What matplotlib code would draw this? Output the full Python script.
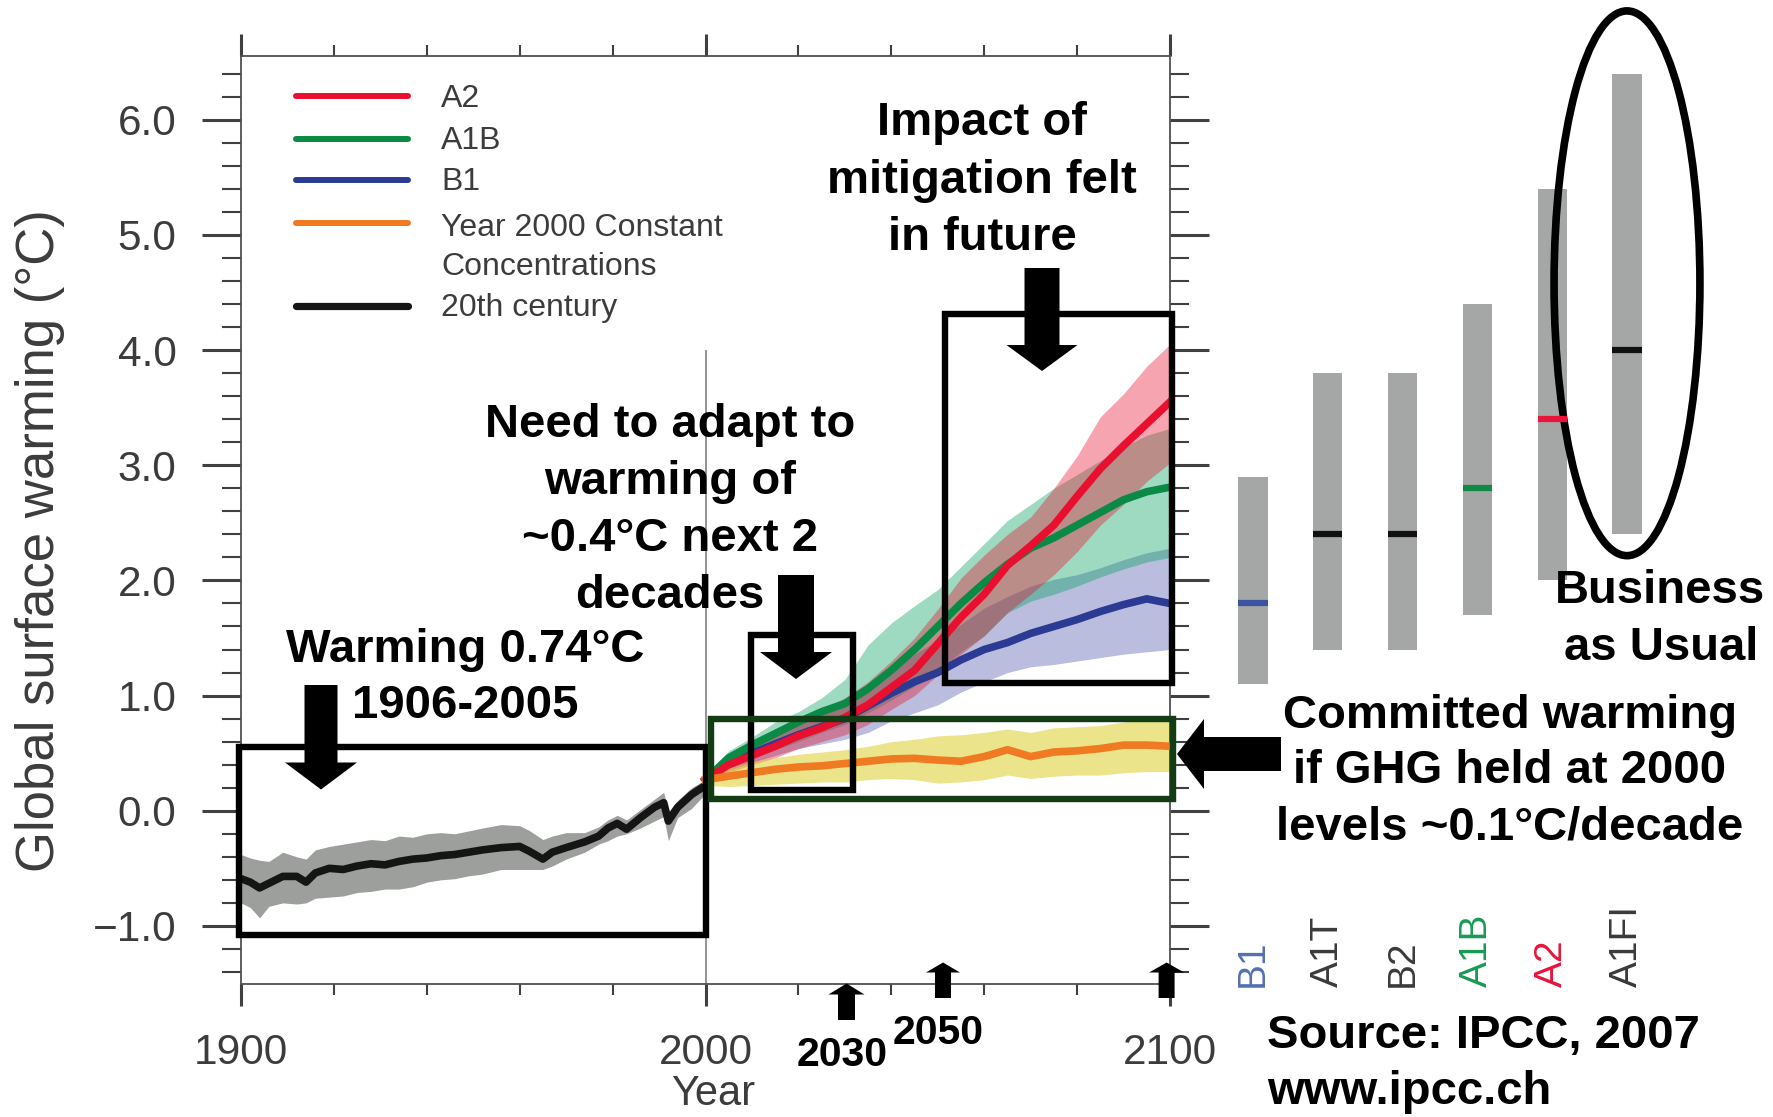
import matplotlib.pyplot as plt
from matplotlib.patches import Rectangle, Polygon, Ellipse
from matplotlib.lines import Line2D
from matplotlib.ticker import MultipleLocator, FuncFormatter
import numpy as np

plt.rcParams["font.family"] = ["Liberation Sans", "DejaVu Sans"]

# 20th century: multi-model mean and spread
years_20c = [1900, 1902, 1904, 1906, 1909, 1912, 1914, 1916, 1919, 1922, 1925, 1928, 1931,
             1934, 1937, 1940, 1943, 1946, 1949, 1952, 1956, 1960, 1962, 1965, 1967, 1970,
             1974, 1977, 1979, 1981, 1983, 1986, 1989, 1991, 1992, 1994, 1997, 2000]
mean_20c = [-0.59, -0.62, -0.67, -0.63, -0.57, -0.57, -0.62, -0.54, -0.50, -0.51, -0.48, -0.46, -0.47,
            -0.44, -0.42, -0.41, -0.39, -0.38, -0.36, -0.34, -0.32, -0.31, -0.35, -0.42, -0.36, -0.32,
            -0.27, -0.22, -0.15, -0.11, -0.16, -0.06, 0.03, 0.07, -0.09, 0.03, 0.14, 0.22]
upper_20c = [-0.38, -0.41, -0.43, -0.44, -0.36, -0.40, -0.42, -0.34, -0.31, -0.29, -0.27, -0.25, -0.26,
             -0.22, -0.23, -0.20, -0.19, -0.20, -0.175, -0.15, -0.12, -0.13, -0.17, -0.25, -0.22, -0.19,
             -0.19, -0.14, -0.08, -0.04, -0.08, 0.01, 0.10, 0.16, -0.01, 0.09, 0.20, 0.27]
lower_20c = [-0.80, -0.84, -0.93, -0.83, -0.80, -0.81, -0.80, -0.76, -0.75, -0.74, -0.71, -0.70, -0.68,
             -0.68, -0.66, -0.62, -0.60, -0.59, -0.565, -0.55, -0.51, -0.51, -0.51, -0.51, -0.48, -0.42,
             -0.36, -0.29, -0.26, -0.22, -0.20, -0.15, -0.09, -0.05, -0.26, -0.06, 0.02, 0.15]

# projections 2000-2100
years_proj = [2000, 2005, 2010, 2015, 2020, 2025, 2030, 2035, 2040, 2045, 2050,
              2055, 2060, 2065, 2070, 2075, 2080, 2085, 2090, 2095, 2100]
a2_mean = [0.27, 0.40, 0.48, 0.56, 0.65, 0.72, 0.81, 0.92, 1.07, 1.22, 1.45,
           1.68, 1.88, 2.13, 2.30, 2.48, 2.73, 2.97, 3.17, 3.36, 3.55]
a2_high = [0.30, 0.48, 0.57, 0.68, 0.78, 0.88, 0.98, 1.12, 1.30, 1.50, 1.75,
           2.02, 2.22, 2.40, 2.55, 2.80, 3.08, 3.42, 3.62, 3.86, 4.05]
a2_low = [0.22, 0.33, 0.40, 0.46, 0.54, 0.60, 0.66, 0.75, 0.88, 1.00, 1.18,
          1.36, 1.52, 1.72, 1.88, 2.05, 2.25, 2.48, 2.66, 2.86, 3.02]
a1b_mean = [0.27, 0.46, 0.57, 0.67, 0.77, 0.86, 0.93, 1.06, 1.22, 1.40, 1.60,
            1.80, 1.98, 2.14, 2.28, 2.37, 2.48, 2.59, 2.70, 2.77, 2.81]
a1b_high = [0.30, 0.52, 0.64, 0.77, 0.86, 0.98, 1.14, 1.44, 1.63, 1.78, 1.92,
            2.12, 2.32, 2.52, 2.66, 2.80, 2.92, 3.04, 3.16, 3.26, 3.32]
a1b_low = [0.22, 0.37, 0.45, 0.53, 0.60, 0.68, 0.75, 0.85, 0.96, 1.08, 1.22,
           1.38, 1.52, 1.72, 1.82, 1.88, 1.95, 2.03, 2.10, 2.16, 2.20]
b1_mean = [0.27, 0.42, 0.50, 0.58, 0.66, 0.73, 0.80, 0.91, 1.02, 1.12, 1.20,
           1.31, 1.40, 1.46, 1.54, 1.60, 1.66, 1.73, 1.79, 1.84, 1.80]
b1_high = [0.30, 0.47, 0.56, 0.66, 0.75, 0.85, 0.95, 1.08, 1.22, 1.36, 1.48,
           1.62, 1.76, 1.86, 1.95, 2.01, 2.05, 2.11, 2.18, 2.24, 2.28]
b1_low = [0.22, 0.35, 0.42, 0.48, 0.54, 0.58, 0.62, 0.68, 0.78, 0.85, 0.92,
          1.03, 1.12, 1.20, 1.25, 1.27, 1.30, 1.33, 1.36, 1.38, 1.40]
const_mean = [0.27, 0.30, 0.33, 0.36, 0.38, 0.39, 0.41, 0.43, 0.45, 0.455, 0.44,
              0.43, 0.47, 0.53, 0.47, 0.51, 0.52, 0.54, 0.57, 0.57, 0.56]
const_high = [0.30, 0.37, 0.43, 0.46, 0.49, 0.51, 0.53, 0.56, 0.60, 0.62, 0.65,
              0.66, 0.68, 0.71, 0.68, 0.72, 0.73, 0.74, 0.77, 0.79, 0.78]
const_low = [0.22, 0.21, 0.22, 0.23, 0.24, 0.25, 0.25, 0.27, 0.28, 0.27, 0.24,
             0.25, 0.27, 0.31, 0.28, 0.30, 0.31, 0.31, 0.33, 0.34, 0.34]

# likely ranges at 2090-2099 per scenario
scenarios = ["B1", "A1T", "B2", "A1B", "A2", "A1FI"]
range_low = [1.1, 1.4, 1.4, 1.7, 2.0, 2.4]
range_high = [2.9, 3.8, 3.8, 4.4, 5.4, 6.4]
best_est = [1.8, 2.4, 2.4, 2.8, 3.4, 4.0]
best_colors = ["#3b54a0", "#111111", "#111111", "#108a45", "#e8143a", "#111111"]
name_colors = ["#5470b0", "#3a3a3a", "#3a3a3a", "#1a9a55", "#e8143a", "#3a3a3a"]

RED, GREEN, BLUE, ORANGE, BLACK = "#e8102e", "#0b8a45", "#2b3a92", "#f07a22", "#151515"
TXT = "#3c3c3c"

W, H = 1773, 1117
fig = plt.figure(figsize=(W / 100, H / 100), dpi=100)


def fx(x):
    return x / W


def fy(y):
    return 1 - y / H


ax_top, ax_bot = 56.4, 983.5
ax = fig.add_axes([fx(241), fy(ax_bot), (1170 - 241) / W, (ax_bot - ax_top) / H])

# spread bands
ax.fill_between(years_20c, lower_20c, upper_20c, color="#9c9f9c", lw=0, zorder=1)
ax.fill_between(years_proj, b1_low, b1_high, color="#2a3296", alpha=0.32, lw=0, zorder=1)
ax.fill_between(years_proj, a1b_low, a1b_high, color="#00a060", alpha=0.38, lw=0, zorder=1)
ax.fill_between(years_proj, a2_low, a2_high, color="#e8102e", alpha=0.38, lw=0, zorder=1)
ax.fill_between(years_proj, const_low, const_high, color="#dccf2a", alpha=0.55, lw=0, zorder=1)

# mean lines
ax.plot(years_20c, mean_20c, color=BLACK, lw=5.5, zorder=3)
ax.plot(years_proj, b1_mean, color=BLUE, lw=5.5, zorder=3)
ax.plot(years_proj, a1b_mean, color=GREEN, lw=5.5, zorder=3)
ax.plot(years_proj, a2_mean, color=RED, lw=5.5, zorder=3)
ax.plot(years_proj, const_mean, color=ORANGE, lw=5.5, zorder=3)

ax.vlines(2000, -1.5, 4.0, color="#8a8a8a", lw=1.3, zorder=2)

ax.set_xlim(1900, 2100)
ax.set_ylim(-1.5, 6.55)
ax.set_xticks([1900, 2000, 2100])
ax.xaxis.set_minor_locator(MultipleLocator(20))
ax.set_yticks([-1, 0, 1, 2, 3, 4, 5, 6])
ax.yaxis.set_minor_locator(MultipleLocator(0.2))
ax.yaxis.set_major_formatter(FuncFormatter(lambda v, p: f"{v:.1f}".replace("-", "\u2212")))
ax.tick_params(axis="both", which="both", direction="out", top=True, right=True,
               labeltop=False, labelright=False, colors="#404040", labelcolor=TXT, labelsize=30.5)
ax.tick_params(axis="y", which="major", length=28, width=2.2, pad=18.5)
ax.tick_params(axis="y", which="minor", length=13.5, width=1.5)
ax.tick_params(axis="x", which="major", length=16, width=2.2, pad=20)
ax.tick_params(axis="x", which="minor", length=8, width=1.5)
for s in ax.spines.values():
    s.set_color("#505050")
    s.set_linewidth(1.3)

# annotation boxes
ax.add_patch(Rectangle((1899.5, -1.08), 100.5, 1.63, fill=False, ec="black", lw=4.6, clip_on=False, zorder=5))
ax.add_patch(Rectangle((2009.7, 0.18), 22.1, 1.35, fill=False, ec="black", lw=4.6, clip_on=False, zorder=5))
ax.add_patch(Rectangle((2001.2, 0.10), 99.4, 0.70, fill=False, ec="#143c14", lw=4.6, clip_on=False, zorder=5))
ax.add_patch(Rectangle((2051.6, 1.11), 48.9, 3.20, fill=False, ec="black", lw=4.6, clip_on=False, zorder=5))

# right panel: likely ranges
ax2 = fig.add_axes([fx(1215.6), fy(ax_bot), 448.8 / W, (ax_bot - ax_top) / H])
xs = np.arange(len(scenarios))
ax2.bar(xs, np.array(range_high) - np.array(range_low), bottom=range_low, width=0.39, color="#a5a7a6")
ax2.hlines(best_est, xs - 0.195, xs + 0.195, colors=best_colors, lw=4.5)
for i, name in enumerate(scenarios):
    ax2.text(i, -1.53, name, rotation=90, ha="center", va="bottom", fontsize=28,
             color=name_colors[i], clip_on=False)
ax2.add_patch(Ellipse((5, 4.58), 1.95, 4.73, fill=False, ec="black", lw=5.5, clip_on=False))
ax2.set_xlim(-0.5, 5.5)
ax2.set_ylim(-1.5, 6.55)
ax2.axis("off")

# legend drawn by hand
legend_rows = [("A2", RED, 96.4, 107), ("A1B", GREEN, 138.6, 149), ("B1", BLUE, 180, 189.5),
               ("Year 2000 Constant", ORANGE, 223, 235.7), ("20th century", BLACK, 306, 316)]
for label, c, ly, tb in legend_rows:
    fig.add_artist(Line2D([fx(296), fx(408)], [fy(ly), fy(ly)], color=c,
                          lw=5.2 if c == BLACK else 4.3, solid_capstyle="round"))
    fig.text(fx(441), fy(tb), label, fontsize=23, color=TXT, va="baseline")
fig.text(fx(441), fy(275), "Concentrations", fontsize=23, color=TXT, va="baseline")

# axis titles
fig.text(fx(40), fy(541), "Global surface warming (\u00b0C)", rotation=90, ha="center", va="center",
         fontsize=38, color=TXT)
fig.text(fx(713), fy(1105), "Year", ha="center", va="baseline", fontsize=30, color=TXT)


def put(x, y, s, size=34, ha="center"):
    fig.text(fx(x), fy(y), s, fontsize=size, fontweight="bold", ha=ha, va="baseline", color="black")


def block_arrow(tail, tip, sw, hw, hl):
    (x0, y0), (x1, y1) = tail, tip
    L = np.hypot(x1 - x0, y1 - y0)
    ux, uy = (x1 - x0) / L, (y1 - y0) / L
    nx, ny = -uy, ux
    bx, by = x1 - ux * hl, y1 - uy * hl
    pts = [(x0 + nx * sw / 2, y0 + ny * sw / 2), (bx + nx * sw / 2, by + ny * sw / 2),
           (bx + nx * hw / 2, by + ny * hw / 2), (x1, y1),
           (bx - nx * hw / 2, by - ny * hw / 2), (bx - nx * sw / 2, by - ny * sw / 2),
           (x0 - nx * sw / 2, y0 - ny * sw / 2)]
    fig.add_artist(Polygon([(fx(px), fy(py)) for px, py in pts], closed=True,
                           fc="black", ec="none", transform=fig.transFigure, zorder=6))


put(982, 135, "Impact of")
put(982, 193, "mitigation felt")
put(982, 250, "in future")
put(670, 437, "Need to adapt to")
put(670, 494, "warming of")
put(670, 551, "~0.4\u00b0C next 2")
put(670, 608, "decades")
put(465, 662, "Warming 0.74\u00b0C")
put(465, 718, "1906-2005")
put(1660, 603, "Business")
put(1661, 660, "as Usual")
put(1510, 728, "Committed warming")
put(1510, 783, "if GHG held at 2000")
put(1510, 840, "levels ~0.1\u00b0C/decade")
put(1267, 1048, "Source: IPCC, 2007", ha="left")
put(1267, 1104, "www.ipcc.ch", ha="left")
put(842, 1066, "2030", size=29.5)
put(938, 1044, "2050", size=29.5)

block_arrow((321, 685), (321, 789.5), 33, 72, 27)
block_arrow((796, 575), (796, 679), 36, 72, 27)
block_arrow((1042, 268), (1042, 371), 35, 71, 26)
block_arrow((1281, 754), (1177, 754), 34, 70, 27)
block_arrow((846.5, 1020), (846.5, 983.5), 17, 36, 11)
block_arrow((943, 998), (943, 962.5), 16, 34, 10)
block_arrow((1166.6, 998), (1166.6, 962.5), 16, 35, 10)

fig.savefig("out.png", dpi=100)
